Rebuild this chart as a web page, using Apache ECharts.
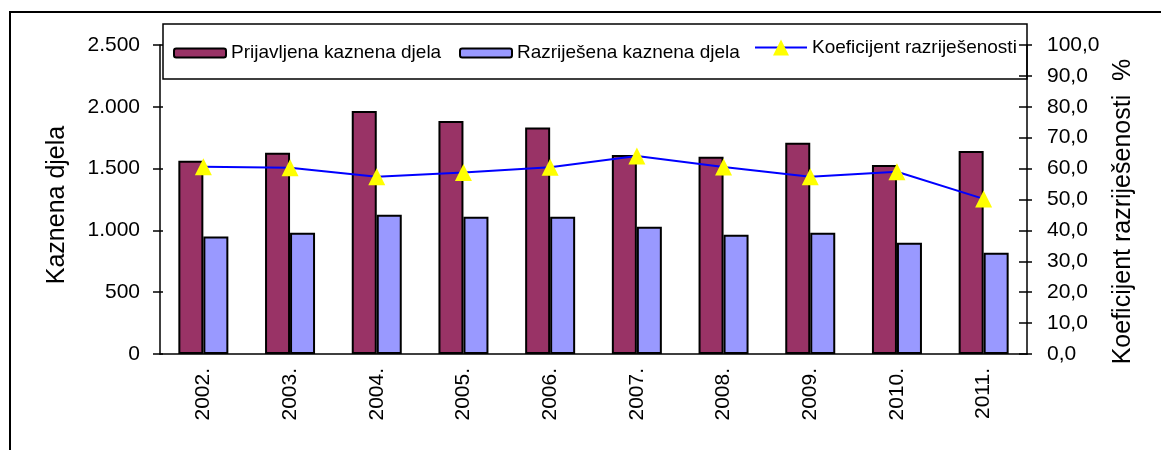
<!DOCTYPE html>
<html>
<head>
<meta charset="utf-8">
<title>Kaznena djela 2002.-2011.</title>
<script src="https://cdn.jsdelivr.net/npm/echarts@6/dist/echarts.min.js"></script>
<style>
  html, body { margin: 0; padding: 0; background: #fff; }
  #chart { width: 1161px; height: 450px; }
</style>
</head>
<body>
<div id="chart"></div>
<script>
// data
const years = ['2002.', '2003.', '2004.', '2005.', '2006.', '2007.', '2008.', '2009.', '2010.', '2011.'];
const prijavljena = [1564, 1629, 1966, 1885, 1833, 1610, 1596, 1709, 1529, 1642];
const razrijesena = [951, 981, 1127, 1111, 1111, 1030, 965, 981, 900, 820];
const koeficijent = [60.6, 60.3, 57.4, 58.7, 60.4, 64.1, 60.5, 57.4, 59.0, 50.2];

const names = ['Prijavljena kaznena djela', 'Razriješena kaznena djela', 'Koeficijent razriješenosti'];
const font = 'Liberation Sans, Arial, sans-serif';

// 2500 -> "2.500"
function thousands(v) {
  return String(v).replace(/\B(?=(\d{3})+(?!\d))/g, '.');
}
// 90 -> "90,0"
function decimal(v) {
  return v.toFixed(1).replace('.', ',');
}

// one legend per item so each sits where it is in the picture
function legendAt(name, left, h) {
  return {
    data: [name],
    left: left,
    top: 48 - h / 2,
    padding: 0,
    itemWidth: 52,
    itemHeight: h,
    textStyle: { fontFamily: font, fontSize: 19, color: '#000' }
  };
}

const chart = echarts.init(document.getElementById('chart'));

const option = {
  backgroundColor: '#fff',
  animation: false,
  graphic: [
    { type: 'rect', z: -10, shape: { x: 10, y: 12, width: 1300, height: 600 },
      style: { fill: 'none', stroke: '#000', lineWidth: 2 } },
    { type: 'rect', z: -5, shape: { x: 163, y: 24, width: 864, height: 55 },
      style: { fill: '#fff', stroke: '#000', lineWidth: 1.5 } }
  ],
  legend: [
    legendAt(names[0], 173, 9),
    legendAt(names[1], 459, 9),
    legendAt(names[2], 754, 20)
  ],
  grid: { left: 160, right: 134, top: 45, bottom: 96 },
  xAxis: [
    {
      type: 'category',
      data: years,
      axisLine: { lineStyle: { color: '#000', width: 1.5 } },
      axisTick: { length: 6, lineStyle: { color: '#000', width: 1.5 } },
      axisLabel: { rotate: 90, margin: 14, color: '#000', fontFamily: font, fontSize: 21 }
    },
    {
      // second axis only for the inner half of the crossing ticks
      type: 'category',
      data: years,
      position: 'bottom',
      axisLine: { show: false },
      axisTick: { inside: true, length: 6, lineStyle: { color: '#000', width: 1.5 } },
      axisLabel: { show: false }
    }
  ],
  yAxis: [
    {
      type: 'value',
      min: 0,
      max: 2500,
      interval: 500,
      position: 'left',
      name: 'Kaznena djela',
      nameLocation: 'middle',
      nameGap: 90,
      nameTextStyle: { fontFamily: font, fontSize: 25, color: '#000', padding: [0, 11, 0, 0] },
      splitLine: { show: false },
      axisLine: { show: true, lineStyle: { color: '#000', width: 1.5 } },
      axisTick: { show: true, length: 7, lineStyle: { color: '#000', width: 1.5 } },
      axisLabel: { margin: 20, color: '#000', fontFamily: font, fontSize: 21, formatter: thousands }
    },
    {
      type: 'value',
      min: 0,
      max: 100,
      interval: 10,
      position: 'right',
      name: 'Koeficijent razriješenosti  %',
      nameLocation: 'middle',
      nameGap: 79,
      nameTextStyle: { fontFamily: font, fontSize: 25, color: '#000', padding: [0, 24, 0, 0] },
      splitLine: { show: false },
      axisLine: { show: true, lineStyle: { color: '#000', width: 1.5 } },
      axisTick: { show: true, length: 5, lineStyle: { color: '#000', width: 1.5 } },
      axisLabel: { margin: 20, color: '#000', fontFamily: font, fontSize: 21, formatter: decimal }
    },
    {
      type: 'value', min: 0, max: 2500, interval: 500, position: 'left',
      splitLine: { show: false }, axisLine: { show: false }, axisLabel: { show: false },
      axisTick: { show: true, inside: true, length: 3, lineStyle: { color: '#000', width: 1.5 } }
    },
    {
      type: 'value', min: 0, max: 100, interval: 10, position: 'right',
      splitLine: { show: false }, axisLine: { show: false }, axisLabel: { show: false },
      axisTick: { show: true, inside: true, length: 8, lineStyle: { color: '#000', width: 1.5 } }
    }
  ],
  series: [
    {
      name: names[0],
      type: 'bar',
      data: prijavljena,
      barWidth: 25,
      barGap: '0%',
      itemStyle: { color: '#993366', borderColor: '#000', borderWidth: 2 }
    },
    {
      name: names[1],
      type: 'bar',
      data: razrijesena,
      barWidth: 25,
      barGap: '0%',
      itemStyle: { color: '#9999FF', borderColor: '#000', borderWidth: 2 }
    },
    {
      name: names[2],
      type: 'line',
      yAxisIndex: 1,
      data: koeficijent,
      symbol: 'triangle',
      symbolSize: 17,
      lineStyle: { color: '#0000FF', width: 2 },
      itemStyle: { color: '#FFFF00', borderWidth: 0 }
    }
  ]
};

chart.setOption(option);
</script>
</body>
</html>
